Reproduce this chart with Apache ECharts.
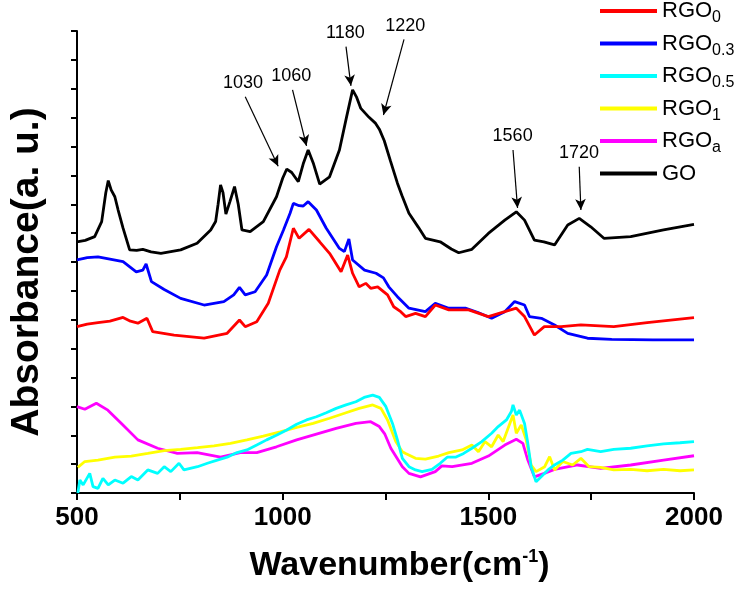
<!DOCTYPE html>
<html><head><meta charset="utf-8">
<script src="https://cdn.jsdelivr.net/npm/echarts@6/dist/echarts.min.js"></script>
<style>html,body{margin:0;padding:0;background:#fff}#c{width:743px;height:591px}</style>
</head><body><div id="c"></div>
<script>
const seriesNames = ['RGO0', 'RGO0.3', 'RGO0.5', 'RGO1', 'RGOa', 'GO'];
const seriesSubs = ['0', '0.3', '0.5', '1', 'a', ''];
const seriesColors = ['#ff0000', '#0000ff', '#00ffff', '#ffff00', '#ff00ff', '#000000'];
const xTicks = [500, 1000, 1500, 2000];

const RGO0 = [[500,5.76],[525,5.85],[551,5.90],[580,5.95],[612,6.08],[630,5.95],[648,5.88],[670,6.05],[684,5.59],[736,5.47],[809,5.36],[865,5.53],[895,5.99],[909,5.76],[937,5.93],[965,6.57],[993,7.72],[1009,8.18],[1026,9.17],[1040,8.82],[1064,9.13],[1090,8.70],[1114,8.30],[1142,7.66],[1158,8.24],[1170,7.61],[1186,7.14],[1202,7.26],[1214,7.09],[1231,7.14],[1255,6.86],[1270,6.45],[1287,6.28],[1299,6.11],[1323,6.22],[1347,6.11],[1371,6.51],[1404,6.34],[1452,6.34],[1500,6.11],[1540,6.28],[1568,6.40],[1588,6.11],[1612,5.47],[1636,5.76],[1677,5.76],[1725,5.82],[1805,5.76],[1886,5.90],[2000,6.07]];
const RGO03 = [[500,8.07],[525,8.15],[551,8.18],[580,8.10],[612,8.01],[644,7.66],[660,7.72],[668,7.93],[681,7.32],[712,7.05],[752,6.74],[809,6.51],[857,6.63],[881,6.86],[895,7.12],[909,6.86],[933,6.97],[961,7.55],[985,8.53],[1002,9.11],[1018,9.69],[1026,10.03],[1040,9.95],[1050,9.94],[1062,10.09],[1082,9.80],[1106,9.17],[1138,8.47],[1150,8.36],[1161,8.80],[1170,8.07],[1199,7.72],[1227,7.61],[1245,7.45],[1258,7.14],[1279,6.80],[1307,6.40],[1347,6.28],[1371,6.57],[1404,6.40],[1444,6.40],[1475,6.25],[1508,6.05],[1540,6.28],[1564,6.63],[1588,6.51],[1600,6.11],[1629,6.05],[1661,5.82],[1693,5.53],[1741,5.36],[1800,5.32],[1900,5.30],[2000,5.30]];
const RGO05 = [[502,0.00],[507,0.45],[515,0.28],[531,0.68],[539,0.22],[551,0.16],[563,0.51],[576,0.28],[592,0.45],[612,0.34],[632,0.57],[648,0.45],[672,0.80],[696,0.68],[712,0.91],[728,0.74],[748,1.03],[760,0.80],[793,0.91],[817,1.03],[841,1.14],[865,1.24],[889,1.40],[913,1.49],[937,1.66],[961,1.84],[986,2.01],[1010,2.18],[1034,2.38],[1058,2.53],[1082,2.64],[1106,2.78],[1130,2.93],[1154,3.05],[1178,3.16],[1198,3.31],[1219,3.39],[1235,3.31],[1251,2.99],[1267,2.41],[1279,1.84],[1291,1.20],[1307,0.91],[1323,0.80],[1339,0.74],[1363,0.82],[1383,1.03],[1400,1.24],[1420,1.24],[1440,1.37],[1460,1.55],[1484,1.78],[1508,2.07],[1524,2.30],[1544,2.53],[1556,2.82],[1560,3.05],[1568,2.70],[1576,2.87],[1588,2.41],[1596,1.72],[1604,0.91],[1616,0.39],[1629,0.57],[1645,0.80],[1661,0.97],[1681,1.14],[1701,1.37],[1725,1.43],[1741,1.51],[1773,1.43],[1805,1.51],[1846,1.55],[1886,1.63],[1926,1.70],[1966,1.74],[2000,1.78]];
const RGO1 = [[502,0.89],[519,1.09],[551,1.14],[592,1.24],[632,1.28],[672,1.37],[712,1.47],[752,1.51],[793,1.57],[833,1.63],[873,1.72],[913,1.84],[953,1.97],[994,2.12],[1034,2.27],[1074,2.41],[1114,2.59],[1154,2.78],[1186,2.93],[1219,3.05],[1239,2.93],[1255,2.53],[1275,1.78],[1291,1.43],[1299,1.37],[1323,1.20],[1347,1.17],[1379,1.28],[1404,1.40],[1436,1.49],[1460,1.66],[1476,1.43],[1492,1.78],[1508,1.60],[1524,2.01],[1536,1.78],[1548,2.24],[1560,2.70],[1568,2.07],[1580,2.36],[1592,1.84],[1604,0.97],[1616,0.74],[1637,0.91],[1649,1.26],[1661,0.80],[1681,1.09],[1705,0.97],[1725,1.20],[1745,0.91],[1773,0.89],[1805,0.80],[1846,0.82],[1886,0.77],[1926,0.82],[1966,0.77],[2000,0.80]];
const RGOa = [[500,2.99],[519,2.90],[547,3.11],[575,2.87],[608,2.41],[648,1.84],[696,1.55],[744,1.37],[792,1.40],[849,1.24],[897,1.40],[937,1.40],[985,1.60],[1034,1.84],[1082,2.04],[1130,2.24],[1178,2.41],[1214,2.47],[1235,2.30],[1248,2.05],[1263,1.55],[1291,0.91],[1307,0.68],[1335,0.56],[1371,0.74],[1387,0.94],[1412,0.91],[1460,1.03],[1500,1.28],[1540,1.66],[1568,1.86],[1584,1.72],[1596,1.14],[1612,0.56],[1636,0.68],[1661,0.82],[1717,0.97],[1773,0.85],[1846,0.97],[1926,1.14],[2000,1.29]];
const GO = [[500,8.70],[520,8.75],[543,8.88],[560,9.40],[570,10.40],[576,10.82],[583,10.50],[592,10.26],[600,9.80],[612,9.17],[628,8.42],[645,8.40],[660,8.44],[680,8.35],[704,8.30],[752,8.42],[792,8.65],[825,9.11],[837,9.40],[843,10.00],[849,10.67],[855,10.40],[862,9.66],[872,10.10],[883,10.61],[892,10.00],[901,9.11],[921,9.05],[953,9.40],[985,10.26],[1000,10.90],[1010,11.22],[1022,11.10],[1038,10.78],[1050,11.40],[1062,11.88],[1075,11.40],[1090,10.70],[1114,10.95],[1138,11.88],[1155,13.00],[1170,13.96],[1180,13.70],[1190,13.32],[1210,13.01],[1226,12.80],[1235,12.60],[1247,12.20],[1262,11.50],[1279,10.73],[1290,10.30],[1307,9.69],[1330,9.20],[1347,8.82],[1383,8.70],[1410,8.45],[1428,8.32],[1460,8.44],[1500,8.99],[1540,9.45],[1568,9.74],[1588,9.45],[1612,8.76],[1635,8.70],[1661,8.59],[1693,9.28],[1721,9.51],[1749,9.22],[1781,8.82],[1846,8.88],[1926,9.11],[2000,9.30]];

// peak annotations: label, arrow start (data units), arrow end (data units)
const annLabels = ['1030', '1060', '1180', '1220', '1560', '1720'];
const annArrowStart = [[909,13.72],[1024,13.96],[1154,15.46],[1295,15.71],[1560,11.88],[1721,11.30]];
const annArrowEnd = [[989,11.32],[1058,12.02],[1166,14.10],[1245,13.09],[1571,9.87],[1725,9.80]];

const seriesData = [RGO0, RGO03, RGO05, RGO1, RGOa, GO];
const FONT = 'Liberation Sans, Arial, sans-serif';

const chart = echarts.init(document.getElementById('c'), null, {renderer: 'canvas'});
const series = seriesData.map((d, i) => {
  const s = {
    name: seriesNames[i], type: 'line', data: d, showSymbol: false, symbol: 'none',
    lineStyle: {color: seriesColors[i], width: 2.8}, itemStyle: {color: seriesColors[i]},
    z: 10 - i, silent: true, clip: false
  };
  if (seriesNames[i] === 'GO') {
    s.markLine = {
      silent: true, animation: false, symbol: ['none', 'arrow'], symbolSize: [8, 11],
      lineStyle: {color: '#000', width: 1.2, type: 'solid'},
      label: {show: true, position: 'start', distance: 5, color: '#000', fontSize: 18, fontFamily: FONT, formatter: '{b}'},
      data: annArrowStart.map((p, k) => [{coord: p, name: annLabels[k]}, {coord: annArrowEnd[k]}])
    };
  }
  return s;
});

chart.setOption({
  animation: false,
  backgroundColor: '#fff',
  grid: {left: 72, right: 49, top: 31, bottom: 98, containLabel: false},
  legend: {
    orient: 'vertical', left: 600, top: 0, padding: 0, itemGap: 6.5,
    icon: 'rect', itemWidth: 57, itemHeight: 4, selectedMode: false,
    data: seriesNames,
    formatter: name => {
      const i = seriesNames.indexOf(name);
      return seriesSubs[i] ? '{m|RGO}{s|' + seriesSubs[i] + '}' : '{m|GO}';
    },
    textStyle: {
      color: '#000',
      rich: {
        m: {fontSize: 22, lineHeight: 30, fontFamily: FONT, color: '#000'},
        s: {fontSize: 16, lineHeight: 10, verticalAlign: 'bottom', fontFamily: FONT, color: '#000'}
      }
    }
  },
  xAxis: {
    type: 'value', min: 500, max: 2000, interval: 250,
    name: 'Wavenumber(cm{sup|-1})', nameLocation: 'middle', nameGap: 55,
    nameTextStyle: {fontSize: 34, fontWeight: 'bold', color: '#000', fontFamily: FONT, padding: [0, 0, 0, 28],
      rich: {sup: {fontSize: 18, fontWeight: 'bold', verticalAlign: 'top', lineHeight: 36, fontFamily: FONT}}},
    axisLine: {lineStyle: {color: '#000', width: 2}},
    axisTick: {inside: false, length: 7, lineStyle: {color: '#000', width: 2}},
    axisLabel: {color: '#000', fontSize: 26, fontWeight: 'bold', margin: 12, fontFamily: FONT,
      formatter: v => (xTicks.indexOf(v) >= 0 ? String(v) : '')},
    splitLine: {show: false}
  },
  yAxis: {
    type: 'value', min: 0, max: 16, interval: 1,
    name: 'Absorbance(a. u.)', nameLocation: 'middle', nameRotate: 90, nameGap: 30,
    nameTextStyle: {fontSize: 39, fontWeight: 'bold', color: '#000', fontFamily: FONT, padding: [0, 20, 0, 0]},
    axisLine: {show: true, lineStyle: {color: '#000', width: 2}},
    axisTick: {show: true, inside: false, length: 6, lineStyle: {color: '#000', width: 2}},
    axisLabel: {show: false},
    splitLine: {show: false}
  },
  series: series
});
</script></body></html>
